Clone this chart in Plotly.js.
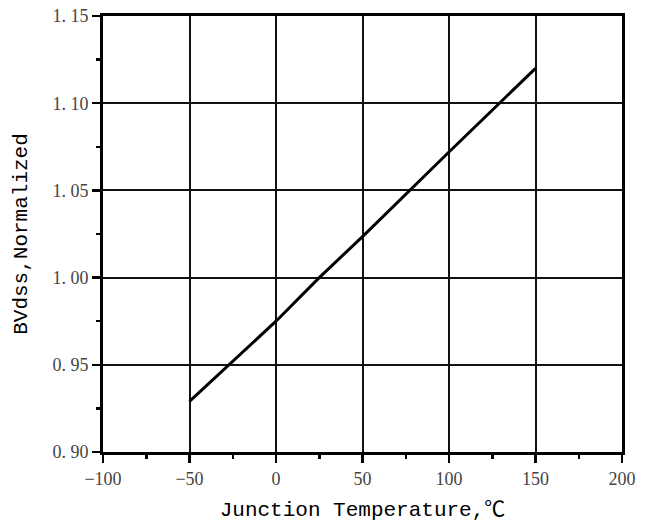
<!DOCTYPE html>
<html>
<head>
<meta charset="utf-8">
<script src="https://cdn.plot.ly/plotly-3.0.1.min.js"></script>
<style>html,body{margin:0;padding:0;background:#fff;}#chart{width:647px;height:525px;}</style>
</head>
<body>
<div id="chart"></div>
<script>
var temperature = [-50, 0, 25, 50, 100, 150];
var bvdss = [0.929, 0.975, 1.0, 1.0235, 1.072, 1.12];
var xTickVals = [-100, -50, 0, 50, 100, 150, 200];
var yTickVals = [0.90, 0.95, 1.00, 1.05, 1.10, 1.15];
var yTickText = ["0. 90", "0. 95", "1. 00", "1. 05", "1. 10", "1. 15"];

var trace = {
  x: temperature, y: bvdss, type: 'scatter', mode: 'lines',
  line: {color: '#000', width: 3}, hoverinfo: 'skip', showlegend: false
};
var tickFont = {family: '"Liberation Serif", "DejaVu Serif", serif', size: 18, color: '#444'};
var titleFont = {family: '"Liberation Mono", "Noto Sans CJK SC", monospace', size: 21, color: '#000'};
var layout = {
  width: 647, height: 525,
  margin: {l: 103, r: 25, t: 16, b: 73},
  paper_bgcolor: '#fff', plot_bgcolor: '#fff',
  xaxis: {
    range: [-100, 200], tickvals: xTickVals,
    showline: true, linecolor: '#000', linewidth: 3, mirror: true,
    showgrid: true, gridcolor: '#111', gridwidth: 2, zeroline: false,
    ticks: 'outside', ticklen: 8, tickwidth: 2.5, tickcolor: '#000',
    minor: {dtick: 25, ticks: 'outside', ticklen: 4, tickwidth: 2.5, tickcolor: '#000', showgrid: false},
    tickfont: tickFont,
    title: {text: 'Junction Temperature,℃', font: titleFont, standoff: 14},
    automargin: false
  },
  yaxis: {
    range: [0.90, 1.15], tickvals: yTickVals, ticktext: yTickText,
    showline: true, linecolor: '#000', linewidth: 3, mirror: true,
    showgrid: true, gridcolor: '#111', gridwidth: 2, zeroline: false,
    ticks: 'outside', ticklen: 8, tickwidth: 2.5, tickcolor: '#000',
    minor: {dtick: 0.025, ticks: 'outside', ticklen: 4, tickwidth: 2.5, tickcolor: '#000', showgrid: false},
    tickfont: tickFont,
    title: {text: 'BVdss,Normalized', font: titleFont, standoff: 20},
    automargin: false
  }
};
Plotly.newPlot('chart', [trace], layout, {staticPlot: true, displayModeBar: false});
</script>
</body>
</html>
